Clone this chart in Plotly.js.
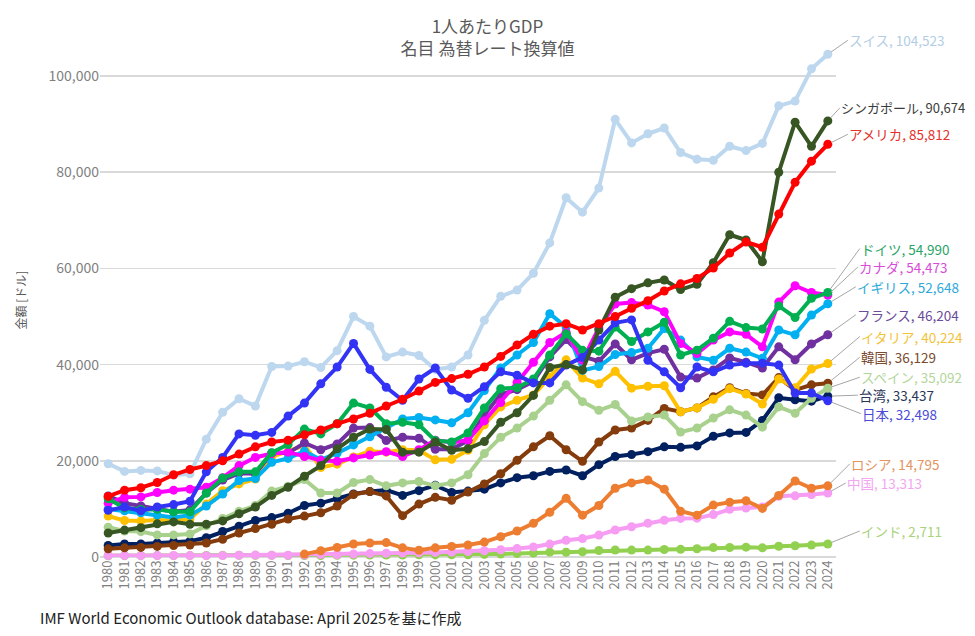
<!DOCTYPE html>
<html>
<head>
<meta charset="utf-8">
<script src="https://cdn.plot.ly/plotly-3.0.1.min.js"></script>
<style>
  html, body { margin: 0; padding: 0; background: #fff; }
  #chart { width: 975px; height: 636px; }
</style>
</head>
<body>
<div id="chart"></div>
<script>
const years = [];
for (let y = 1980; y <= 2024; y++) years.push(String(y));

// 1人あたりGDP (USD)
const swiss = [19400, 17800, 18000, 17900, 17000, 17300, 24500, 30100, 32900, 31400, 39600, 39700, 40600, 39400, 42900, 50000, 48000, 41600, 42600, 41900, 39000, 39500, 42000, 49200, 54200, 55500, 59000, 65300, 74700, 71700, 76700, 91000, 86100, 88000, 89200, 84100, 82700, 82500, 85400, 84500, 86000, 93800, 94800, 101500, 104523];
const singapore = [5000, 5600, 6100, 6900, 7300, 6800, 6800, 7500, 9000, 10400, 12800, 14500, 16800, 19000, 22500, 24900, 26600, 26500, 21800, 21800, 23900, 22200, 22500, 24000, 28000, 30000, 33600, 39400, 40000, 38900, 47200, 54000, 55800, 57000, 57600, 55600, 56700, 61200, 67000, 65900, 61400, 80000, 90400, 85400, 90674];
const usa = [12600, 13900, 14400, 15500, 17100, 18200, 19000, 20000, 21400, 22900, 23900, 24300, 25400, 26400, 27700, 28700, 29900, 31400, 32800, 34500, 36300, 37100, 38000, 39500, 41700, 44100, 46300, 48000, 48500, 47200, 48500, 50000, 51700, 53300, 55300, 56800, 57900, 60100, 63200, 65500, 64400, 71300, 77900, 82300, 85812];
const germany = [12100, 10200, 9900, 9900, 9400, 9400, 13300, 16400, 17700, 17700, 21700, 23400, 26600, 25600, 27700, 32000, 31000, 27700, 28000, 27500, 24200, 23900, 25800, 31000, 35000, 35200, 37000, 42000, 46400, 43000, 42800, 47800, 44800, 46800, 48800, 42000, 43000, 45500, 49000, 47700, 47400, 52200, 49800, 53800, 54990];
const canada = [11200, 12400, 12500, 13400, 13900, 14100, 14500, 16500, 19000, 20700, 21500, 21800, 20900, 20100, 19900, 20600, 21200, 21900, 20900, 22300, 24300, 23800, 24300, 28300, 32100, 36300, 40500, 44600, 46700, 40900, 47600, 52600, 52900, 52400, 51000, 44400, 42300, 45100, 46800, 46300, 43700, 53000, 56400, 55000, 54473];
const uk = [10000, 9600, 9200, 8700, 8200, 8700, 10600, 13100, 15900, 16300, 19700, 20500, 22000, 20200, 21600, 23300, 25000, 26800, 28700, 29000, 28500, 27900, 30000, 34600, 39300, 42000, 44600, 50600, 47800, 38800, 39600, 42100, 42500, 43400, 47500, 45100, 41600, 40900, 43400, 42600, 41300, 47200, 46200, 50300, 52648];
const france = [12700, 11200, 10600, 10000, 9400, 9800, 13300, 16000, 17400, 17300, 21600, 21600, 23700, 22300, 23500, 26800, 26900, 24200, 24900, 24700, 22400, 22400, 24200, 29600, 33800, 34800, 36500, 41600, 45200, 41700, 40700, 44300, 41000, 42400, 43200, 37400, 37200, 38900, 41400, 40500, 39300, 43700, 41000, 44300, 46204];
const italy = [8500, 7600, 7500, 7700, 7600, 7900, 11000, 13800, 15200, 16200, 20800, 21900, 23200, 18600, 19300, 20800, 22000, 21800, 22300, 22200, 20200, 20300, 22200, 27500, 31200, 32600, 33700, 37400, 41000, 37200, 36000, 38600, 35100, 35500, 35600, 30200, 31000, 32800, 35000, 33900, 31800, 37000, 35200, 39100, 40224];
const korea = [1700, 1900, 2000, 2200, 2400, 2500, 2900, 3700, 5000, 5900, 6800, 7900, 8500, 9200, 10600, 13000, 13600, 12700, 8600, 11000, 12400, 11800, 13500, 15200, 17300, 20100, 22900, 25200, 22300, 19900, 23900, 26400, 26800, 28400, 30900, 30200, 31000, 33300, 35200, 34000, 33700, 37300, 34700, 35800, 36129];
const spain = [6200, 5400, 5300, 4600, 4600, 4800, 6500, 8000, 9500, 10700, 13700, 14700, 16100, 13300, 13300, 15500, 16100, 14800, 15400, 15700, 14800, 15400, 17100, 21500, 24900, 26800, 29300, 32600, 35800, 32300, 30500, 31700, 28300, 29100, 29500, 26000, 26800, 28900, 30600, 29500, 27000, 31200, 29900, 33000, 35092];
const taiwan = [2400, 2700, 2700, 2900, 3200, 3300, 4000, 5300, 6400, 7600, 8200, 9100, 10700, 11200, 12100, 13100, 13600, 13900, 12800, 13800, 14900, 13400, 13700, 14100, 15400, 16500, 16900, 17800, 18100, 16900, 19200, 20900, 21300, 21900, 22900, 22800, 23100, 25100, 25800, 25900, 28400, 33100, 32700, 32400, 33437];
const japan = [9700, 10400, 9600, 10400, 10900, 11600, 17700, 20700, 25600, 25300, 25900, 29300, 32000, 36000, 39500, 44400, 39000, 35300, 32600, 37000, 39300, 34700, 33000, 35400, 38500, 37800, 36200, 36200, 39900, 41500, 45100, 48700, 49300, 40900, 38500, 35200, 39500, 38500, 39900, 40300, 40300, 39900, 34100, 34100, 32498];
const russia = [null, null, null, null, null, null, null, null, null, null, null, null, 600, 1300, 2000, 2700, 2900, 3000, 1900, 1400, 1900, 2200, 2500, 3100, 4200, 5400, 7000, 9300, 12200, 8700, 10700, 14300, 15400, 16000, 14100, 9500, 8700, 10800, 11400, 11700, 10100, 12800, 15800, 14300, 14795];
const china = [310, 290, 280, 300, 310, 290, 280, 300, 370, 410, 350, 360, 420, 530, 470, 610, 710, 780, 830, 870, 960, 1050, 1150, 1290, 1510, 1750, 2100, 2690, 3470, 3830, 4550, 5610, 6300, 7040, 7640, 8020, 8080, 8820, 9910, 10170, 10410, 12620, 12720, 12970, 13313];
const india = [270, 280, 280, 290, 280, 300, 310, 340, 360, 350, 370, 300, 320, 300, 350, 380, 400, 420, 420, 450, 440, 450, 470, 540, 620, 710, 800, 1020, 990, 1100, 1350, 1450, 1430, 1440, 1550, 1590, 1720, 1960, 1970, 2050, 1910, 2240, 2350, 2480, 2711];

// drawing order (first = bottom)
const series = [
  { name: "スイス", values: swiss, color: "#bdd7ee", text: "#b3cde6", dx: 20, dy: -14 },
  { name: "インド", values: india, color: "#92d050", text: "#a9d27a", dx: 32, dy: -13 },
  { name: "中国", values: china, color: "#f79cf3", text: "#f3a6f0", dx: 18, dy: -10 },
  { name: "ロシア", values: russia, color: "#ed7d31", text: "#e39460", dx: 22, dy: -22 },
  { name: "台湾", values: taiwan, color: "#002060", text: "#2a3558", dx: 30, dy: -1 },
  { name: "韓国", values: korea, color: "#843c0c", text: "#7a4b2f", dx: 32, dy: -26 },
  { name: "スペイン", values: spain, color: "#a9d18e", text: "#b3d69c", dx: 32, dy: -11 },
  { name: "イタリア", values: italy, color: "#ffc000", text: "#f2c23a", dx: 32, dy: -27 },
  { name: "フランス", values: france, color: "#7030a0", text: "#6b4c9a", dx: 28, dy: -20 },
  { name: "イギリス", values: uk, color: "#00b0f0", text: "#2fa9d9", dx: 28, dy: -17 },
  { name: "カナダ", values: canada, color: "#ff00ff", text: "#d94bd9", dx: 30, dy: -28 },
  { name: "ドイツ", values: germany, color: "#00b050", text: "#2aa466", dx: 32, dy: -44 },
  { name: "日本", values: japan, color: "#3333f5", text: "#4b4bd6", dx: 33, dy: 13 },
  { name: "シンガポール", values: singapore, color: "#375623", text: "#3b3b3b", dx: 12, dy: -13, size: 13 },
  { name: "アメリカ", values: usa, color: "#ff0000", text: "#e5322d", dx: 20, dy: -10 },
];

const data = series.map(s => ({
  x: years,
  y: s.values,
  name: s.name,
  type: "scatter",
  mode: "lines+markers",
  line: { color: s.color, width: 4 },
  marker: { color: s.color, size: 9 },
  cliponaxis: false,
  connectgaps: false,
}));

const font = "'Noto Sans CJK JP', 'Noto Sans', sans-serif";

const annotations = series.map(s => {
  const last = s.values[s.values.length - 1];
  return {
    x: years.length - 1,
    y: last,
    xref: "x",
    yref: "y",
    text: s.name + ", " + last.toLocaleString("en-US"),
    showarrow: true,
    arrowhead: 0,
    arrowwidth: 1,
    arrowcolor: "#a6a6a6",
    standoff: 4,
    ax: s.dx,
    ay: s.dy,
    xanchor: "left",
    yanchor: "middle",
    borderpad: 0,
    font: { family: font, size: s.size || 13.5, color: s.text },
  };
});

annotations.push({
  xref: "paper", yref: "paper",
  x: 0, y: 0.509, xshift: -90,
  text: "金額 [ドル]",
  textangle: -90,
  showarrow: false,
  font: { family: font, size: 12, color: "#595959" },
});

annotations.push({
  xref: "paper", yref: "paper",
  x: 0, y: 0, xshift: -62, yshift: -60,
  xanchor: "left", yanchor: "middle",
  text: "IMF World Economic Outlook database: April 2025を基に作成",
  showarrow: false,
  font: { family: font, size: 15, color: "#222222" },
});

const layout = {
  width: 975,
  height: 636,
  margin: { l: 100, r: 139, t: 52, b: 79 },
  paper_bgcolor: "#ffffff",
  plot_bgcolor: "#ffffff",
  showlegend: false,
  font: { family: font, color: "#595959" },
  title: {
    text: "1人あたりGDP<br>名目 為替レート換算値",
    x: 0.5,
    xref: "container",
    y: 0.948,
    yref: "container",
    yanchor: "middle",
    font: { family: font, size: 17, color: "#595959" },
  },
  xaxis: {
    type: "category",
    range: [-0.5, years.length - 0.5],
    tickmode: "array",
    tickvals: years,
    ticktext: years,
    tickangle: -90,
    tickfont: { family: font, size: 13, color: "#808080" },
    showgrid: false,
    showline: false,
    ticks: "",
  },
  yaxis: {
    range: [0, 105000],
    tickvals: [0, 20000, 40000, 60000, 80000, 100000],
    tickformat: ",d",
    tickfont: { family: font, size: 14, color: "#808080" },
    gridcolor: "#d9d9d9",
    gridwidth: 1.5,
    zeroline: true,
    zerolinecolor: "#d9d9d9",
    zerolinewidth: 1.5,
    showline: false,
    ticks: "",
  },
  annotations: annotations,
};

Plotly.newPlot("chart", data, layout, { staticPlot: true, displayModeBar: false });
</script>
</body>
</html>
